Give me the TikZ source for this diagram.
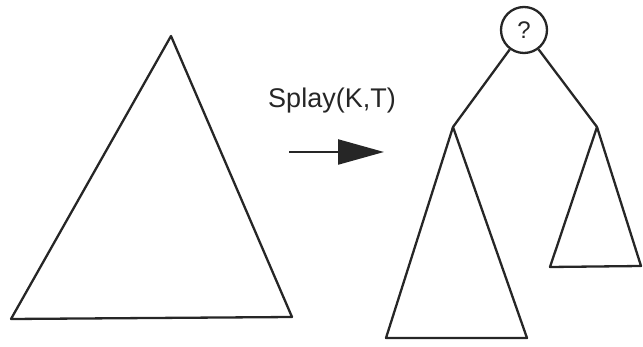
\documentclass[tikz,border=0pt]{standalone}
\usepackage{fontspec}
\setmainfont{Liberation Sans}
\usetikzlibrary{arrows.meta}
\begin{document}
\begin{tikzpicture}[x=1pt,y=-1pt,line join=round,
  edge/.style={draw=black!85,line width=2.3pt},
  tri/.style={draw=black!85,line width=2.3pt},
  qnode/.style={circle,draw=black!85,line width=2.3pt,minimum size=46pt,inner sep=0pt,text=black!85,font=\fontsize{24}{26}\selectfont},
  lbl/.style={font=\fontsize{27}{30}\selectfont,text=black!85,inner sep=0pt}]
\useasboundingbox (0,0) rectangle (643,347);
% big tree
\coordinate (A) at (171,36);
\coordinate (AL) at (11,319);
\coordinate (AR) at (292,317);
\draw[tri] (A) -- (AL) -- (AR) -- cycle;
% label and arrow
\node[lbl] (lab) at (332,101) {Splay(K,T)};
\coordinate (s) at (289,152);
\coordinate (t) at (384,152);
\draw[edge,-{Triangle[length=46pt,width=25pt]}] (s) -- (t);
% result tree
\node[qnode] (root) at (524,30) {?};
\coordinate (L) at (453,127);
\coordinate (R) at (597,127);
\draw[edge] (root) -- (L);
\draw[edge] (root) -- (R);
\coordinate (LL) at (386,338);
\coordinate (LR) at (527,338);
\draw[tri] (L) -- (LL) -- (LR) -- cycle;
\coordinate (RL) at (550,267);
\coordinate (RR) at (641,266);
\draw[tri] (R) -- (RL) -- (RR) -- cycle;
\end{tikzpicture}
\end{document}
